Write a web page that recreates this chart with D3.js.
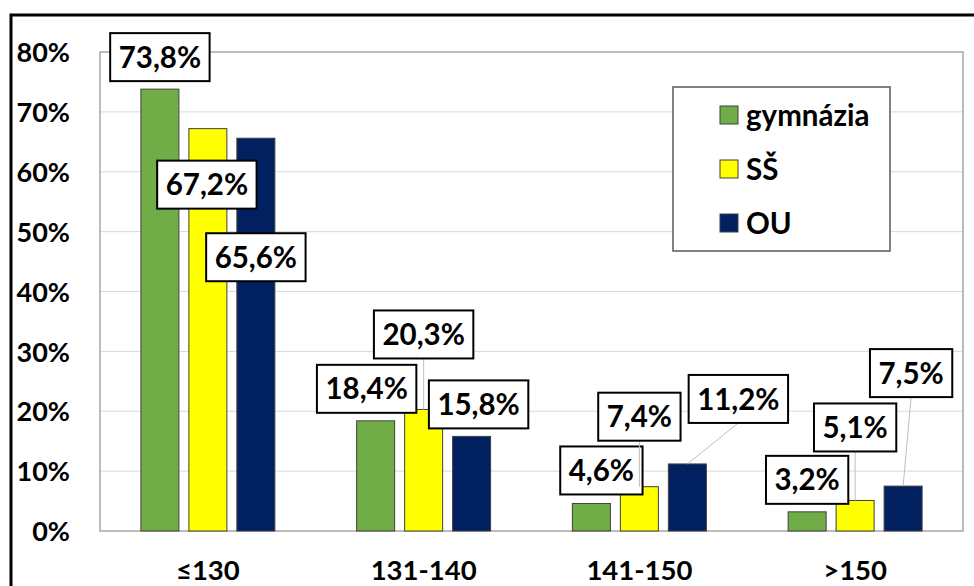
<!DOCTYPE html>
<html>
<head>
<meta charset="utf-8">
<script src="https://cdn.jsdelivr.net/npm/d3@7"></script>
<style>
  body { margin: 0; background: #fff; }
  text { font-family: Lato, "Open Sans", sans-serif; font-weight: 700; fill: #000; }
</style>
</head>
<body>
<div id="chart"></div>
<script>
var categories = ["≤130", "131-140", "141-150", ">150"];
var series = ["gymnázia", "SŠ", "OU"];
var gymnazia = [73.8, 18.4, 4.6, 3.2];
var ss = [67.2, 20.3, 7.4, 5.1];
var ou = [65.6, 15.8, 11.2, 7.5];
var yTicks = [0, 10, 20, 30, 40, 50, 60, 70, 80];

var colors = ["#70AD47", "#FFFF00", "#002060"];

// manual label placement, offset of the box centre from the bar top (like Excel's dragged labels)
var labelOffsets = [
    [[0, -32], [-9, -32], [10, -33], [0, -32]],
    [[-1, 56], [0, -75], [0, -70], [0, -73]],
    [[0, 119], [7, -32], [51, -65], [8, -113]]
];
var leaders = [
    [false, false, false, false],
    [false, true, true, true],
    [false, false, true, true]
];

var W = 974, H = 586;
var plot = { left: 100, right: 963, top: 52, bottom: 531 };

var svg = d3.select("#chart").append("svg")
    .attr("width", W)
    .attr("height", H);

var x0 = d3.scaleBand()
    .domain(categories)
    .range([plot.left, plot.right]);

var x1 = d3.scaleBand()
    .domain(series)
    .range([0, x0.bandwidth()])
    .paddingInner(0.208)
    .paddingOuter(0.852);

var y = d3.scaleLinear()
    .domain([0, 80])
    .range([plot.bottom, plot.top]);

// gridlines
svg.append("g")
    .selectAll("line")
    .data(yTicks.slice(1, -1))
    .enter()
    .append("line")
    .attr("x1", plot.left)
    .attr("x2", plot.right)
    .attr("y1", function(d) { return y(d); })
    .attr("y2", function(d) { return y(d); })
    .attr("stroke", "#D9D9D9")
    .attr("stroke-width", 1);

// plot area border
svg.append("rect")
    .attr("x", plot.left)
    .attr("y", plot.top)
    .attr("width", plot.right - plot.left)
    .attr("height", plot.bottom - plot.top)
    .attr("fill", "none")
    .attr("stroke", "#A6A6A6")
    .attr("stroke-width", 1.5);

// y tick labels
var yAxis = d3.axisLeft(y)
    .tickValues(yTicks)
    .tickSize(0)
    .tickPadding(0)
    .tickFormat(function(d) { return d + "%"; });

var gy = svg.append("g")
    .attr("transform", "translate(70,0)")
    .call(yAxis);
gy.select(".domain").remove();
gy.selectAll("text")
    .attr("font-size", 27)
    .attr("font-family", "Lato, sans-serif")
    .attr("font-weight", 700)
    .attr("fill", "#000")
    .attr("dy", "0.36em");

// x category labels
var xAxis = d3.axisBottom(x0).tickSize(0).tickPadding(0);
var gx = svg.append("g")
    .attr("transform", "translate(0,580)")
    .call(xAxis);
gx.select(".domain").remove();
gx.selectAll("text")
    .attr("font-size", 27.5)
    .attr("font-family", "Lato, sans-serif")
    .attr("font-weight", 700)
    .attr("fill", "#000")
    .attr("dy", 0);

var data = [gymnazia, ss, ou];
var bars = [];
data.forEach(function(vals, s) {
    vals.forEach(function(v, c) {
        bars.push({ s: s, c: c, value: v });
    });
});

function barX(d) { return x0(categories[d.c]) + x1(series[d.s]); }
function barCx(d) { return barX(d) + x1.bandwidth() / 2; }

svg.append("g")
    .selectAll("rect")
    .data(bars)
    .enter()
    .append("rect")
    .attr("x", barX)
    .attr("y", function(d) { return y(d.value); })
    .attr("width", x1.bandwidth())
    .attr("height", function(d) { return y(0) - y(d.value); })
    .attr("fill", function(d) { return colors[d.s]; })
    .attr("stroke", "#404040")
    .attr("stroke-width", 1);

// data labels
var boxH = 48;
var labels = svg.append("g");
bars.forEach(function(d) {
    var off = labelOffsets[d.s][d.c];
    var cx = barCx(d) + off[0];
    var cy = y(d.value) + off[1];
    var txt = d.value.toFixed(1).replace(".", ",") + "%";

    if (leaders[d.s][d.c]) {
        labels.append("line")
            .attr("x1", cx)
            .attr("y1", cy + boxH / 2)
            .attr("x2", barCx(d))
            .attr("y2", y(d.value))
            .attr("stroke", "#BFBFBF")
            .attr("stroke-width", 1);
    }

    var g = labels.append("g");
    var rect = g.append("rect");
    var t = g.append("text")
        .attr("x", cx)
        .attr("y", cy)
        .attr("dy", "0.36em")
        .attr("text-anchor", "middle")
        .attr("font-size", 29.5)
        .text(txt);
    var w = t.node().getComputedTextLength() + 17;
    rect.attr("x", cx - w / 2)
        .attr("y", cy - boxH / 2)
        .attr("width", w)
        .attr("height", boxH)
        .attr("fill", "#fff")
        .attr("stroke", "#000")
        .attr("stroke-width", 2);
});

// legend
var legend = svg.append("g");
legend.append("rect")
    .attr("x", 673)
    .attr("y", 87)
    .attr("width", 217)
    .attr("height", 164)
    .attr("fill", "#fff")
    .attr("stroke", "#595959")
    .attr("stroke-width", 1.5);

var items = legend.selectAll("g.item")
    .data(series)
    .enter()
    .append("g")
    .attr("class", "item")
    .attr("transform", function(d, i) { return "translate(720," + (115 + i * 54) + ")"; });

items.append("rect")
    .attr("x", 0)
    .attr("y", -9)
    .attr("width", 18)
    .attr("height", 18)
    .attr("fill", function(d, i) { return colors[i]; })
    .attr("stroke", "#404040")
    .attr("stroke-width", 1);

items.append("text")
    .attr("x", 26)
    .attr("y", 0)
    .attr("dy", "0.36em")
    .attr("font-size", 29.5)
    .text(function(d) { return d; });

// outer chart frame (cut off at right and bottom)
svg.append("rect")
    .attr("x", 11)
    .attr("y", 15)
    .attr("width", 1000)
    .attr("height", 700)
    .attr("fill", "none")
    .attr("stroke", "#000")
    .attr("stroke-width", 3);
</script>
</body>
</html>
